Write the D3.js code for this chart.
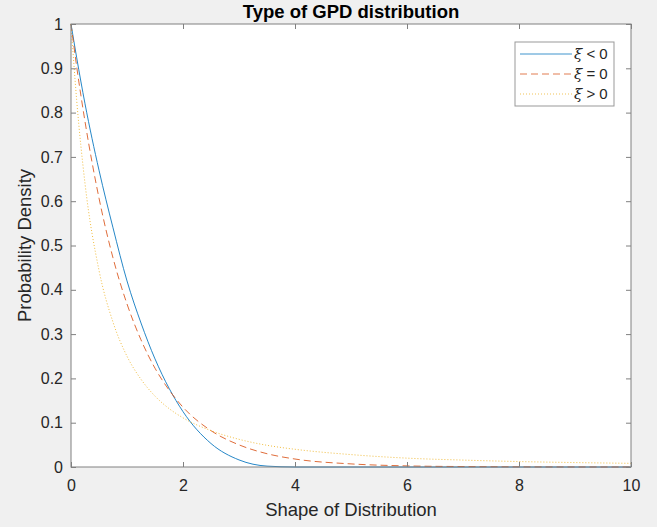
<!DOCTYPE html>
<html>
<head>
<meta charset="utf-8">
<script src="https://cdn.jsdelivr.net/npm/d3@7"></script>
<style>
  html, body { margin: 0; padding: 0; background: #f0f0f0; }
  svg { display: block; font-family: "Liberation Sans", Arial, sans-serif; }
</style>
</head>
<body>
<div id="chart"></div>
<script>
// GPD density curves
var xs       = [0, 0.1, 0.25, 0.5, 0.75, 1, 1.25, 1.5, 1.75, 2, 2.5, 3, 3.5, 4, 5, 6, 7, 8, 9, 10];
var negShape = [1, 0.925, 0.82, 0.67, 0.54, 0.42, 0.325, 0.244, 0.178, 0.125, 0.053, 0.016, 0.002, 0, 0, 0, 0, 0, 0, 0];
var zeroShape = [1, 0.905, 0.78, 0.607, 0.472, 0.368, 0.287, 0.223, 0.174, 0.135, 0.082, 0.05, 0.03, 0.018, 0.007, 0.0025, 0.001, 0.0003, 0.0001, 0];
var posShape = [1, 0.83, 0.64, 0.444, 0.327, 0.25, 0.198, 0.16, 0.132, 0.111, 0.082, 0.0625, 0.049, 0.04, 0.028, 0.02, 0.0156, 0.0123, 0.01, 0.0083];

var seriesNames = ["< 0", "= 0", "> 0"];
var xTicks = [0, 2, 4, 6, 8, 10];
var yTicks = [0, 0.1, 0.2, 0.3, 0.4, 0.5, 0.6, 0.7, 0.8, 0.9, 1];

var width = 657, height = 527;
var margin = {top: 24, right: 26, bottom: 60, left: 71};
var plotW = 631 - margin.left, plotH = 467 - margin.top;

var svg = d3.select("#chart").append("svg")
  .attr("width", width).attr("height", height);

svg.append("rect").attr("width", width).attr("height", height).attr("fill", "#f0f0f0");

var plot = svg.append("g")
  .attr("transform", "translate(" + margin.left + "," + margin.top + ")");

var x = d3.scaleLinear().domain([0, 10]).range([0, plotW]);
var y = d3.scaleLinear().domain([0, 1]).range([plotH, 0]);

plot.append("rect").attr("width", plotW).attr("height", plotH).attr("fill", "#fff");

// lines
var series = [
  {vals: negShape, color: "#0072bd", dash: null},
  {vals: zeroShape, color: "#d95319", dash: "7,4"},
  {vals: posShape, color: "#edb120", dash: "1,2"}
];
var line = d3.line()
  .x(function(d) { return x(d[0]); })
  .y(function(d) { return y(d[1]); })
  .curve(d3.curveMonotoneX);

plot.append("g").selectAll("path")
  .data(series)
  .enter().append("path")
  .attr("d", function(s) { return line(xs.map(function(v, i) { return [v, s.vals[i]]; })); })
  .attr("fill", "none")
  .attr("stroke", function(s) { return s.color; })
  .attr("stroke-width", 1)
  .attr("stroke-dasharray", function(s) { return s.dash; })
  .attr("opacity", 0.85);

// axes (MATLAB box, ticks inside on all four sides)
var axisColor = "#808080";
function styleAxis(g) {
  g.select(".domain").remove();
  g.selectAll(".tick line").attr("stroke", axisColor);
  g.selectAll(".tick text").attr("fill", "#262626").style("font-size", "16px")
    .style("font-family", "'Liberation Sans', Arial, sans-serif");
}
plot.append("g").attr("transform", "translate(0," + plotH + ")")
  .call(d3.axisBottom(x).tickValues(xTicks).tickFormat(d3.format("d")).tickSizeInner(-5).tickPadding(13))
  .call(styleAxis);
plot.append("g")
  .call(d3.axisTop(x).tickValues(xTicks).tickSizeInner(-5).tickFormat(""))
  .call(styleAxis);
plot.append("g")
  .call(d3.axisLeft(y).tickValues(yTicks).tickFormat(d3.format("")).tickSizeInner(-5).tickPadding(8))
  .call(styleAxis);
plot.append("g").attr("transform", "translate(" + plotW + ",0)")
  .call(d3.axisRight(y).tickValues(yTicks).tickSizeInner(-5).tickFormat(""))
  .call(styleAxis);

plot.append("rect").attr("width", plotW).attr("height", plotH)
  .attr("fill", "none").attr("stroke", axisColor).attr("stroke-width", 1);

// titles
svg.append("text").attr("x", margin.left + plotW / 2).attr("y", 18)
  .attr("text-anchor", "middle").style("font-size", "18.5px").style("font-weight", "bold")
  .attr("fill", "#000").text("Type of GPD distribution");
svg.append("text").attr("x", margin.left + plotW / 2).attr("y", 516)
  .attr("text-anchor", "middle").style("font-size", "18.5px").attr("fill", "#262626")
  .text("Shape of Distribution");
svg.append("text").attr("transform", "translate(31," + (margin.top + plotH / 2) + ") rotate(-90)")
  .attr("text-anchor", "middle").style("font-size", "18.5px").attr("fill", "#262626")
  .text("Probability Density");

// legend
var legend = svg.append("g").attr("transform", "translate(515,42)");
legend.append("rect").attr("width", 99).attr("height", 64)
  .attr("fill", "#fff").attr("stroke", "#999").attr("stroke-width", 1);
var items = legend.selectAll("g.item").data(series).enter().append("g")
  .attr("transform", function(d, i) { return "translate(0," + (12 + i * 20) + ")"; });
items.append("line").attr("x1", 5).attr("x2", 57).attr("y1", 0).attr("y2", 0)
  .attr("stroke", function(d) { return d.color; })
  .attr("stroke-dasharray", function(d) { return d.dash; })
  .attr("opacity", 0.75);
var lt = items.append("text").attr("x", 59).attr("y", 5)
  .style("font-size", "15px").attr("fill", "#262626");
lt.append("tspan").style("font-style", "italic").style("font-family", "'DejaVu Serif', serif").text("ξ");
lt.append("tspan").text(function(d, i) { return " " + seriesNames[i]; });
</script>
</body>
</html>
